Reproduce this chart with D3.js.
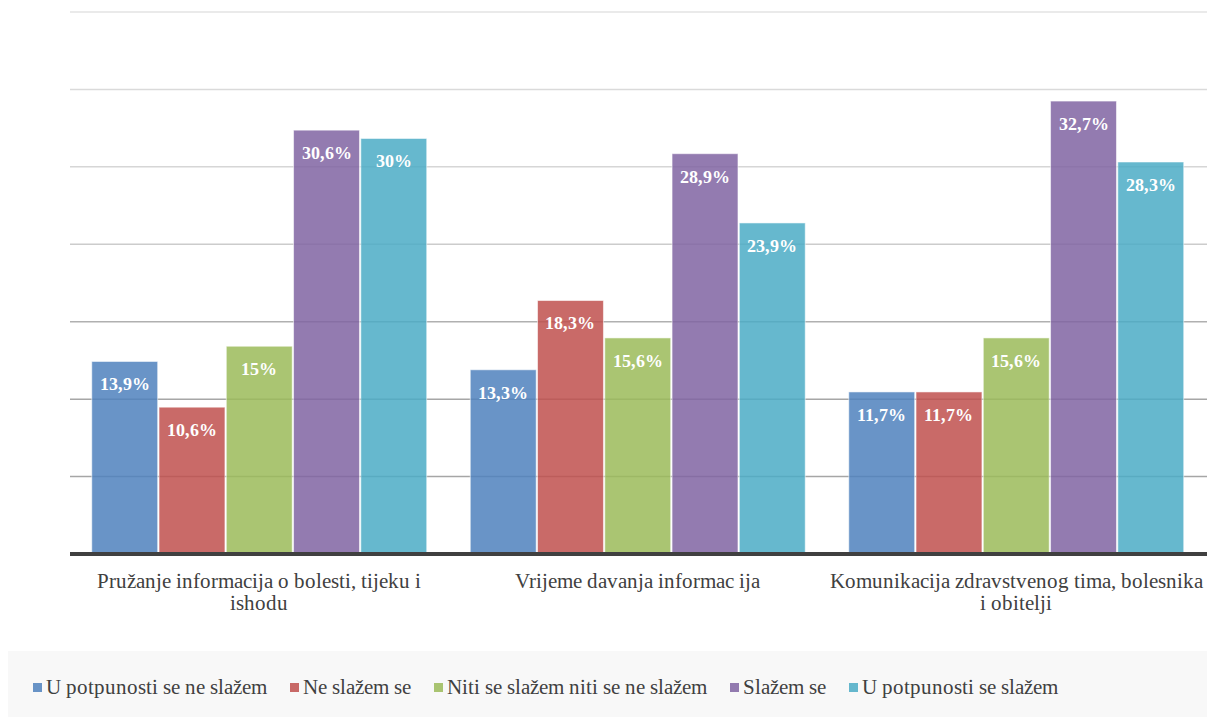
<!DOCTYPE html>
<html>
<head>
<meta charset="utf-8">
<script src="https://cdn.jsdelivr.net/npm/d3@7"></script>
<style>
  @font-face { font-family: "RefSerif"; src: local("Liberation Serif"), local("LiberationSerif"), local("Liberation Serif Regular"), local("LiberationSerif-Regular"); font-weight: normal; }
  @font-face { font-family: "RefSerif"; src: local("Liberation Serif Bold"), local("LiberationSerif-Bold"); font-weight: bold; }
  body { margin: 0; background: #fff; }
  #wrap { position: relative; width: 1207px; height: 717px; overflow: hidden; }
  #wrap svg { position: absolute; left: 0; top: 0; }
  .lbl { position: absolute; white-space: nowrap; line-height: 1; }
</style>
</head>
<body>
<div id="wrap"><svg id="chart" width="1207" height="717"></svg></div>
<script>
// data
const categories = [
  ["Pružanje informacija o bolesti, tijeku i", "ishodu"],
  ["Vrijeme davanja informac ija"],
  ["Komunikacija zdravstvenog tima, bolesnika", "i obitelji"]
];
const seriesNames = [
  "U potpunosti se ne slažem",
  "Ne slažem se",
  "Niti se slažem niti se ne slažem",
  "Slažem se",
  "U potpunosti se slažem"
];
const valuesStronglyDisagree = [13.9, 13.3, 11.7];
const valuesDisagree = [10.6, 18.3, 11.7];
const valuesNeutral = [15, 15.6, 15.6];
const valuesAgree = [30.6, 28.9, 32.7];
const valuesStronglyAgree = [30, 23.9, 28.3];
const gridTicks = [5.59, 11.18, 16.77, 22.36, 27.95, 33.54, 39.13];

const seriesValues = [valuesStronglyDisagree, valuesDisagree, valuesNeutral, valuesAgree, valuesStronglyAgree];
const colors = ["#4f81bd", "#c0504d", "#9bbb59", "#8064a2", "#4bacc6"];
const gridColors = ["#a6a6a6", "#a6a6a6", "#b0b0b0", "#cccccc", "#d6d6d6", "#dadada", "#e3e3e3"];
const FONT = '"RefSerif", "Liberation Serif", "Tinos", "Times New Roman", serif';

const wrap = d3.select("#wrap");
const svg = d3.select("#chart");
const left = 70, right = 1205.5, baseY = 554, topY = 12;

// text in html, top = baseline - 0.84 * size
function label(x, baseline, size, txt, opts) {
  const o = opts || {};
  const d = wrap.append("div")
    .attr("class", "lbl")
    .style("left", x + "px")
    .style("top", (baseline - 0.84 * size) + "px")
    .style("font-family", FONT, "important")
    .style("font-size", size + "px")
    .style("color", o.color || "#404040")
    .style("font-weight", o.bold ? "bold" : "normal")
    .text(txt);
  if (o.center) d.style("transform", "translateX(-50%)");
  return d;
}

const y = d3.scaleLinear().domain([0, 39.13]).range([baseY, topY]);
const x0 = d3.scaleBand()
  .domain(d3.range(categories.length))
  .range([left, right])
  .paddingInner(0.115)
  .paddingOuter(0.0575);
const x1 = d3.scaleBand()
  .domain(d3.range(seriesNames.length))
  .range([0, x0.bandwidth()])
  .paddingInner(0.02);

// grid
svg.append("g").selectAll("line")
  .data(gridTicks)
  .join("line")
  .attr("x1", left).attr("x2", 1207)
  .attr("y1", d => y(d)).attr("y2", d => y(d))
  .attr("stroke", (d, i) => gridColors[i])
  .attr("stroke-width", 1.5);

// bars
categories.forEach((cat, ci) => {
  const rows = seriesValues.map((vals, si) => ({ si, v: vals[ci] }));
  svg.append("g")
    .attr("transform", `translate(${x0(ci)},0)`)
    .selectAll("rect")
    .data(rows)
    .join("rect")
    .attr("x", d => x1(d.si))
    .attr("y", d => y(d.v))
    .attr("width", x1.bandwidth())
    .attr("height", d => baseY - y(d.v))
    .attr("fill", d => colors[d.si])
    .attr("fill-opacity", 0.85)
    .attr("stroke", "#fff")
    .attr("stroke-opacity", 0.55)
    .attr("stroke-width", 1);
  rows.forEach(d => {
    label(x0(ci) + x1(d.si) + x1.bandwidth() / 2, y(d.v) + 29, 18,
      String(d.v).replace(".", ",") + "%", { color: "#fff", bold: true, center: true });
  });
});

// baseline
svg.append("line")
  .attr("x1", left).attr("x2", 1207)
  .attr("y1", baseY).attr("y2", baseY)
  .attr("stroke", "#404040")
  .attr("stroke-width", 4);

// category labels
categories.forEach((lines, ci) => {
  lines.forEach((ln, li) => {
    label(x0(ci) + x0.bandwidth() / 2, 589 + li * 22, 21, ln, { center: true });
  });
});

// legend
svg.append("rect")
  .attr("x", 8).attr("y", 651)
  .attr("width", 1199).attr("height", 66)
  .attr("fill", "#f8f8f8");

let lx = 33;
seriesNames.forEach((name, i) => {
  svg.append("rect")
    .attr("x", lx).attr("y", 683)
    .attr("width", 9).attr("height", 9)
    .attr("fill", colors[i])
    .attr("fill-opacity", 0.85);
  const t = label(lx + 13, 695, 21, name);
  lx += 13 + t.node().getBoundingClientRect().width + 23;
});
</script>
</body>
</html>
